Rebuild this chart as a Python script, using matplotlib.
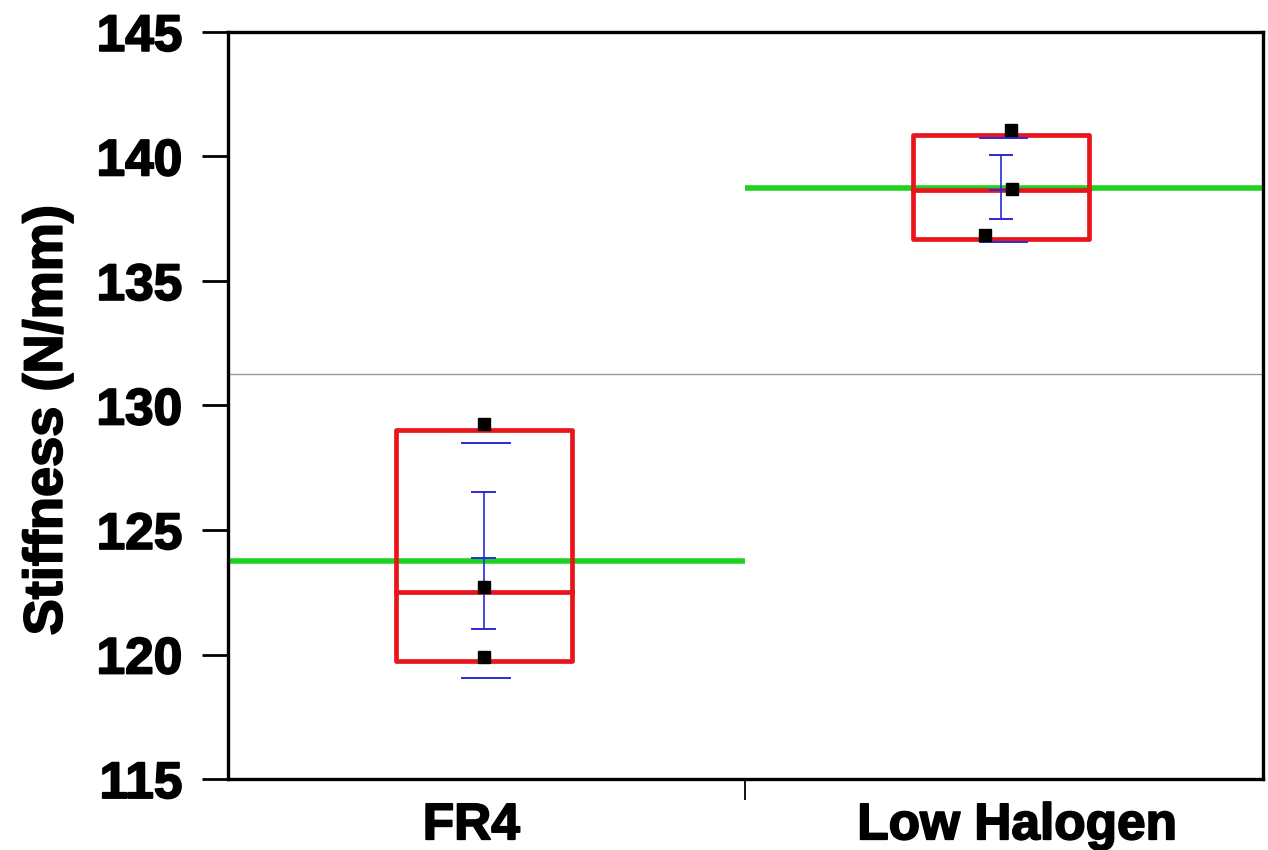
import matplotlib
matplotlib.use("Agg")
import matplotlib.pyplot as plt
import matplotlib.patheffects as pe
from matplotlib.patches import Rectangle

# valori
categorie = ["FR4", "Low Halogen"]
box_basso = [119.73, 136.68]
box_mediana = [122.5, 138.66]
box_alto = [129.0, 140.85]
media_gruppo = [123.75, 138.75]
media_totale = 131.25

punti_y = [[129.24, 122.7, 119.89], [141.05, 138.7, 136.85]]
punti_dx = [[0.0, 0.0, 0.0], [0.02, 0.022, -0.032]]

err_media = [123.86, 138.66]
err_alto = [126.51, 140.07]
err_basso = [121.01, 137.5]
cap_alto = [128.51, 140.72]
cap_basso = [119.05, 136.55]

plt.rcParams["font.family"] = ["Liberation Sans", "DejaVu Sans"]
plt.rcParams["font.weight"] = "bold"

fig = plt.figure(figsize=(12.68, 8.5), dpi=100)
ax = fig.add_axes([0.1798, 0.0835, 0.8162, 0.879])

ax.set_xlim(0, 2)
ax.set_ylim(115, 145)

pos = [0.494, 1.494]
larghezza = 0.34

# linea della media totale
ax.axhline(media_totale, color="#9a9a9a", lw=1.0, zorder=1)

for i in range(len(categorie)):
    c = pos[i]
    # media di gruppo (verde)
    ax.plot([i, i + 1], [media_gruppo[i]] * 2, color="#1fd21f", lw=4.0, zorder=2,
            solid_capstyle="butt")
    # box rosso
    ax.add_patch(Rectangle((c - larghezza / 2, box_basso[i]), larghezza,
                           box_alto[i] - box_basso[i], fill=False,
                           edgecolor="#e8161c", lw=3.4, joinstyle="round", zorder=3))
    ax.plot([c - larghezza / 2, c + larghezza / 2], [box_mediana[i]] * 2,
            color="#e8161c", lw=3.4, zorder=3)
    # barre blu
    ax.plot([c, c], [err_basso[i], err_alto[i]], color="#2a2ad8", lw=1.2, zorder=4)
    for y in (err_basso[i], err_media[i], err_alto[i]):
        ax.plot([c - 0.022, c + 0.022], [y, y], color="#2a2ad8", lw=1.4, zorder=4)
    for y in (cap_basso[i], cap_alto[i]):
        ax.plot([c + 0.005 - 0.046, c + 0.005 + 0.046], [y, y], color="#2a2ad8",
                lw=1.4, zorder=4)
    # punti
    xs = [c + d for d in punti_dx[i]]
    ax.plot(xs, punti_y[i], "s", color="black", ms=8.5, zorder=5)

grassetto = [pe.withStroke(linewidth=1.3, foreground="black")]

# assi
ax.set_yticks([115, 120, 125, 130, 135, 140, 145])
ax.tick_params(axis="y", direction="out", length=19, width=2.0, labelsize=37, pad=14)
ax.set_xticks([0.47, 1.525])
ax.set_xticklabels(categorie, fontsize=37)
ax.tick_params(axis="x", length=0, pad=16)
ax.set_xticks([1.0], minor=True)
ax.tick_params(axis="x", which="minor", direction="out", length=15, width=1.3)
for lab in ax.get_yticklabels() + ax.get_xticklabels():
    lab.set_fontweight("bold")
    lab.set_path_effects(grassetto)

for s in ax.spines.values():
    s.set_linewidth(2.4)

ax.set_ylabel("Stiffness (N/mm)", fontsize=39, fontweight="bold",
              path_effects=grassetto)
ax.yaxis.set_label_coords(-0.15, 0.48)

fig.savefig("out.png", dpi=100)
